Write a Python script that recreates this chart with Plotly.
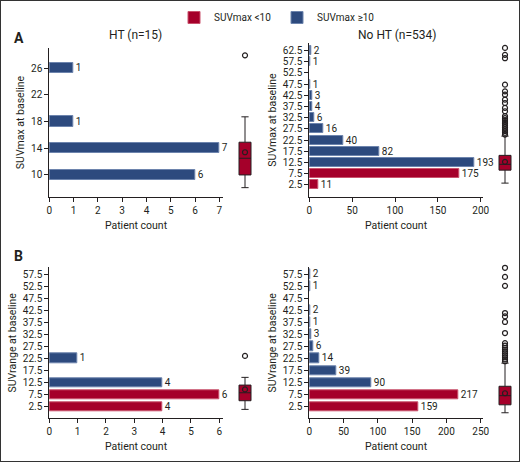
"""SUVmax / SUVrange at baseline, HT vs no HT: histograms with box plots."""
import plotly.graph_objects as go

# ---- data -------------------------------------------------------------
# panel A: SUVmax at baseline
ht_max_bins = [10, 14, 18, 22, 26]
ht_max_counts = [6, 7, 1, 0, 1]
ht_max_low = [False, False, False, False, False]   # True -> SUVmax <10

noht_max_bins = [2.5, 7.5, 12.5, 17.5, 22.5, 27.5, 32.5, 37.5, 42.5, 47.5, 52.5, 57.5, 62.5]
noht_max_counts = [11, 175, 193, 82, 40, 16, 6, 4, 3, 1, 0, 1, 2]
noht_max_low = [True, True] + [False] * 11

# panel B: SUVrange at baseline
range_bins = [2.5, 7.5, 12.5, 17.5, 22.5, 27.5, 32.5, 37.5, 42.5, 47.5, 52.5, 57.5]
ht_range_counts = [4, 6, 4, 0, 1, 0, 0, 0, 0, 0, 0, 0]
noht_range_counts = [159, 217, 90, 39, 14, 6, 3, 1, 2, 0, 1, 2]
range_low = [True, True] + [False] * 10

# box plot summaries (q1, median, q3, lower fence, upper fence, mean) + outliers
ht_max_box = dict(q1=10.0, median=12.5, q3=14.9, lowerfence=8.1, upperfence=18.7, mean=13.4)
ht_max_out = [27.9]
noht_max_box = dict(q1=9.1, median=11.7, q3=15.7, lowerfence=3.3, upperfence=24.3, mean=12.8)
noht_max_out = [63.7, 60.6, 59.1, 47.3, 44.3, 42.8, 40.6, 39.1, 36.9, 35.4, 33.2, 32.3,
                31.5, 30.6, 29.8, 29.0, 28.2, 27.4, 26.6, 25.8, 25.0]
ht_range_box = dict(q1=5.0, median=8.3, q3=11.5, lowerfence=1.4, upperfence=14.7, mean=9.7)
ht_range_out = [23.6]
noht_range_box = dict(q1=3.3, median=7.1, q3=11.0, lowerfence=0.0, upperfence=20.6, mean=8.1)
noht_range_out = [60.2, 56.4, 52.7, 41.4, 40.0, 37.7, 33.1, 28.9, 27.9, 27.0, 26.2, 25.4,
                  24.6, 23.8, 23.0, 22.2, 21.4]

# ---- style --------------------------------------------------------------
RED = "#a5002a"
RED_EDGE = "#c9536d"
BLUE = "#2d4a7e"
BLUE_EDGE = "#6d84ad"
INK = "#231f20"
FONT = "Liberation Sans Narrow, Roboto, Arial, sans-serif"
W, H = 520, 462


def px_x(a, b):
    return [a / W, b / W]


def px_y(top, bottom):
    return [1 - bottom / H, 1 - top / H]


fig = go.Figure()


def add_bars(bins, counts, low, xa, ya, width, legend=False):
    """Add red (<10) and blue (>=10) bar traces with outside count labels."""
    for is_low, name, col, edge in ((True, "SUVmax <10", RED, RED_EDGE),
                                    (False, "SUVmax \u226510", BLUE, BLUE_EDGE)):
        ys = [b for b, c, l in zip(bins, counts, low) if c > 0 and l == is_low]
        xs = [c for c, l in zip(counts, low) if c > 0 and l == is_low]
        fig.add_trace(go.Bar(
            x=xs, y=ys, orientation="h", width=width, name=name,
            marker=dict(color=col, line=dict(color=edge, width=1)),
            text=xs, textposition="outside", cliponaxis=False, constraintext="none",
            textfont=dict(size=10, color=INK, family=FONT),
            xaxis=xa, yaxis=ya, showlegend=legend, legendgroup=name,
        ))


def add_box(stats, outliers, xa, ya):
    fig.add_trace(go.Box(
        x=[0], q1=[stats["q1"]], median=[stats["median"]], q3=[stats["q3"]],
        lowerfence=[stats["lowerfence"]], upperfence=[stats["upperfence"]],
        width=1, whiskerwidth=0.6, fillcolor=RED, line=dict(color=INK, width=1),
        boxpoints=False, showlegend=False, xaxis=xa, yaxis=ya, hoverinfo="y",
    ))
    fig.add_trace(go.Scatter(
        x=[0] * (len(outliers) + 1), y=[stats["mean"]] + outliers, mode="markers",
        marker=dict(symbol="circle-open", size=5, color=INK, line=dict(width=1.2)),
        showlegend=False, xaxis=xa, yaxis=ya, cliponaxis=False,
    ))


add_bars(ht_max_bins, ht_max_counts, ht_max_low, "x", "y", 1.5)
add_bars(noht_max_bins, noht_max_counts, noht_max_low, "x3", "y3", 4, legend=True)
add_bars(range_bins, ht_range_counts, range_low, "x5", "y5", 4)
add_bars(range_bins, noht_range_counts, range_low, "x7", "y7", 4)
add_box(ht_max_box, ht_max_out, "x2", "y2")
add_box(noht_max_box, noht_max_out, "x4", "y4")
add_box(ht_range_box, ht_range_out, "x6", "y6")
add_box(noht_range_box, noht_range_out, "x8", "y8")

tick_font = dict(size=10, color=INK, family=FONT)
title_font = dict(size=10.5, color=INK, family=FONT)


def bar_x(domain, rng, dtick, anchor):
    return dict(domain=domain, range=rng, dtick=dtick, tick0=0, anchor=anchor,
                showline=True, linecolor=INK, linewidth=1, ticks="outside", ticklen=4,
                tickcolor=INK, tickfont=tick_font, showgrid=False, zeroline=False,
                title=dict(text="Patient count", font=title_font, standoff=6),
                automargin=False)


def bar_y(domain, rng, tickvals, anchor, title):
    return dict(domain=domain, range=rng, tickvals=tickvals, anchor=anchor,
                showline=True, linecolor=INK, linewidth=1, ticks="outside", ticklen=4,
                tickcolor=INK, tickfont=tick_font, showgrid=False, zeroline=False,
                title=dict(text=title, font=title_font, standoff=4),
                automargin=False)


def box_x(domain, anchor):
    return dict(domain=domain, range=[-1, 1], visible=False, anchor=anchor)


def box_y(domain, match, anchor):
    return dict(domain=domain, matches=match, visible=False, anchor=anchor)


top_a = px_y(48, 197)
top_a2 = px_y(43, 197)
low_b = px_y(267.3, 418.3)

fig.update_layout(
    xaxis=bar_x(px_x(49.3, 222.7), [0, 7.14], 1, "y"),
    yaxis=bar_y(top_a, [6.7, 29], ht_max_bins, "x", "SUVmax at baseline"),
    xaxis2=box_x(px_x(233, 257), "y2"),
    yaxis2=box_y(top_a, "y", "x2"),
    xaxis3=bar_x(px_x(309.3, 482.7), [0, 202.3], 50, "y3"),
    yaxis3=bar_y(top_a2, [-2.9, 65.9], noht_max_bins, "x3", "SUVmax at baseline"),
    xaxis4=box_x(px_x(493, 517), "y4"),
    yaxis4=box_y(top_a2, "y3", "x4"),
    xaxis5=bar_x(px_x(49.3, 222.7), [0, 6.12], 1, "y5"),
    yaxis5=bar_y(low_b, [-2.3, 60.4], range_bins, "x5", "SUVrange at baseline"),
    xaxis6=box_x(px_x(233, 257), "y6"),
    yaxis6=box_y(low_b, "y5", "x6"),
    xaxis7=bar_x(px_x(309.3, 482.7), [0, 252.9], 50, "y7"),
    yaxis7=bar_y(low_b, [-2.3, 60.4], range_bins, "x7", "SUVrange at baseline"),
    xaxis8=box_x(px_x(493, 517), "y8"),
    yaxis8=box_y(low_b, "y7", "x8"),
)

# panel letters and titles
for text, x, y, size, bold in (("A", 12, 38, 14, True), ("B", 12, 256, 14, True),
                               ("HT (n=15)", 135, 35, 12, False),
                               ("No HT (n=534)", 397, 35, 12, False)):
    fig.add_annotation(text=f"<b>{text}</b>" if bold else text, x=x / W, y=1 - y / H,
                       xref="paper", yref="paper", showarrow=False,
                       xanchor="left" if bold else "center", yanchor="middle",
                       font=dict(size=size, color=INK, family=FONT))

fig.add_shape(type="rect", xref="paper", yref="paper", x0=0, x1=1, y0=0, y1=1,
              line=dict(color="#333333", width=2))

fig.update_layout(
    width=W, height=H, template="none",
    margin=dict(l=0, r=0, t=0, b=0),
    paper_bgcolor="white", plot_bgcolor="white",
    font=dict(family=FONT, color=INK, size=10),
    bargap=0,
    legend=dict(orientation="h", x=174 / W, y=1 - 3 / H, xanchor="left", yanchor="top",
                font=dict(size=10, color=INK, family=FONT), itemwidth=30,
                entrywidth=58, bgcolor="rgba(0,0,0,0)"),
)

# drop the browser's default page margin so the figure fills the window
fig.write_html("out.html", config={"displayModeBar": False},
               post_script="document.body.style.margin = '0';")
